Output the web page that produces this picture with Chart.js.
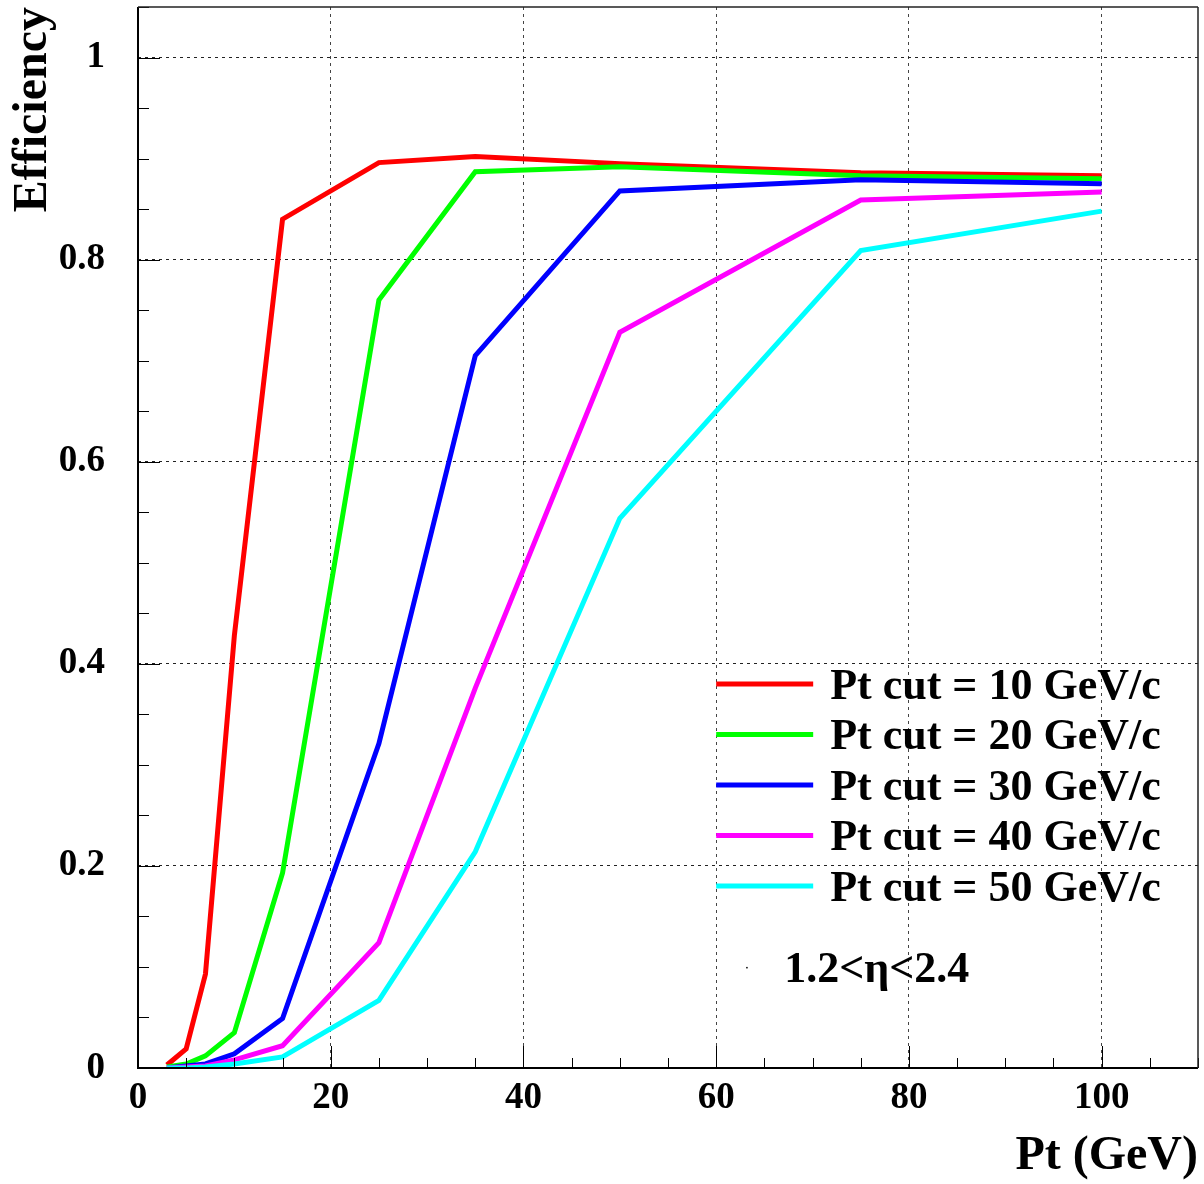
<!DOCTYPE html>
<html>
<head>
<meta charset="utf-8">
<script src="https://cdn.jsdelivr.net/npm/chart.js@4/dist/chart.umd.min.js"></script>
<style>
  html, body { margin: 0; padding: 0; background: #fff; }
  canvas { display: block; }
</style>
</head>
<body>
<canvas id="eff" width="1204" height="1184"></canvas>
<script>
// Pt points (GeV) where the efficiency was measured
const ptValues = [3, 5, 7, 10, 15, 25, 35, 50, 75, 100];

// efficiency per Pt cut
const effCut10 = [0.003, 0.019, 0.093, 0.428, 0.840, 0.896, 0.902, 0.895, 0.886, 0.883];
const effCut20 = [0.001, 0.004, 0.012, 0.035, 0.193, 0.760, 0.887, 0.892, 0.883, 0.880];
const effCut30 = [0.000, 0.002, 0.004, 0.014, 0.049, 0.321, 0.705, 0.868, 0.879, 0.875];
const effCut40 = [0.000, 0.001, 0.002, 0.008, 0.022, 0.124, 0.376, 0.728, 0.859, 0.867];
const effCut50 = [0.000, 0.000, 0.001, 0.004, 0.011, 0.067, 0.214, 0.544, 0.809, 0.848];

const seriesLabels = [
  'Pt cut = 10 GeV/c',
  'Pt cut = 20 GeV/c',
  'Pt cut = 30 GeV/c',
  'Pt cut = 40 GeV/c',
  'Pt cut = 50 GeV/c'
];

const xTicks = [0, 20, 40, 60, 80, 100];
const xTickLabels = ['0', '20', '40', '60', '80', '100'];
const yTicks = [0, 0.2, 0.4, 0.6, 0.8, 1];
const yTickLabels = ['0', '0.2', '0.4', '0.6', '0.8', '1'];

const etaLabel = '1.2<\u03b7<2.4';

const X_MAX = 110;
const Y_MAX = 1.05;
const FONT = '"Liberation Serif", "Times New Roman", serif';
const COLORS = ['#ff0000', '#00ff00', '#0000ff', '#ff00ff', '#00ffff'];

function toPoints(arr) {
  return arr.map((v, i) => ({x: ptValues[i], y: v}));
}

const allSeries = [effCut10, effCut20, effCut30, effCut40, effCut50];

const datasets = allSeries.map((s, i) => ({
  label: seriesLabels[i],
  data: toPoints(s),
  borderColor: COLORS[i],
  backgroundColor: COLORS[i],
  borderWidth: 5,
  pointRadius: 0,
  tension: 0,
  fill: false,
  order: allSeries.length - i
}));

function line(ctx, x1, y1, x2, y2) {
  ctx.beginPath();
  ctx.moveTo(x1, y1);
  ctx.lineTo(x2, y2);
  ctx.stroke();
}

// drop the extra room chart.js keeps for the outer tick labels
function noEdgePadding(scale) {
  scale.paddingTop = 0;
  scale.paddingBottom = 0;
  scale.paddingLeft = 0;
  scale.paddingRight = 0;
}

// frame, inner tick marks, legend and the eta note
const decorPlugin = {
  id: 'decor',
  afterDraw(chart) {
    const {ctx, chartArea: a, scales: {x, y}} = chart;
    ctx.save();

    ctx.strokeStyle = '#000';
    ctx.lineWidth = 1;
    for (let i = 0; i * 5 <= X_MAX; i++) {
      const v = i * 5;
      const px = Math.round(x.getPixelForValue(v)) + 0.5;
      const len = v % 20 === 0 ? 22 : 10;
      line(ctx, px, a.bottom, px, a.bottom - len);
    }
    for (let i = 0; i * 0.05 <= Y_MAX + 1e-9; i++) {
      const py = Math.round(y.getPixelForValue(i * 0.05)) + 0.5;
      const len = i % 4 === 0 ? 22 : 11;
      line(ctx, a.left, py, a.left + len, py);
    }

    // frame
    ctx.strokeStyle = '#000';
    ctx.lineWidth = 2;
    line(ctx, a.left, a.top, a.left, a.bottom + 1);
    line(ctx, a.left - 1, a.bottom, a.right, a.bottom);
    ctx.lineWidth = 1.5;
    ctx.strokeStyle = '#222';
    line(ctx, a.left, a.top, a.right, a.top);
    line(ctx, a.right, a.top, a.right, a.bottom);

    // legend
    const lx1 = x.getPixelForValue(60);
    const lx2 = lx1 + 97;
    const ly0 = a.top + (a.bottom - a.top) * 0.638;
    const step = 50.5;
    ctx.font = 'bold 44px ' + FONT;
    ctx.textAlign = 'left';
    ctx.textBaseline = 'alphabetic';
    chart.data.datasets.forEach((ds, i) => {
      const ly = ly0 + i * step;
      ctx.strokeStyle = ds.borderColor;
      ctx.lineWidth = 5;
      line(ctx, lx1, ly, lx2, ly);
      ctx.fillStyle = '#000';
      ctx.fillText(ds.label, lx2 + 17, ly + 15);
    });

    // eta range note
    const ey = ly0 + 4 * step + 96;
    ctx.fillStyle = '#000';
    ctx.fillRect(lx1 + 30, ey - 15, 1.5, 1.5);
    ctx.fillText(etaLabel, lx1 + 68, ey);

    ctx.restore();
  }
};

const ctx = document.getElementById('eff');

new Chart(ctx, {
  type: 'line',
  data: {datasets},
  options: {
    responsive: false,
    animation: false,
    devicePixelRatio: 1,
    layout: {padding: {top: 7, right: 6, left: 0, bottom: 0}},
    plugins: {
      legend: {display: false},
      tooltip: {enabled: false},
      title: {display: false}
    },
    scales: {
      x: {
        type: 'linear',
        min: 0,
        max: X_MAX,
        afterBuildTicks: (scale) => {
          scale.ticks = xTicks.map(v => ({value: v}));
        },
        afterFit: (scale) => {
          scale.height = 116;
          noEdgePadding(scale);
        },
        ticks: {
          autoSkip: false,
          maxRotation: 0,
          padding: 8,
          color: '#000',
          font: {family: FONT, size: 37, weight: 'bold'},
          callback: (value, index) => xTickLabels[index]
        },
        grid: {
          drawTicks: false,
          color: '#444',
          lineWidth: 1
        },
        border: {display: false, dash: [3, 4]},
        title: {
          display: true,
          text: 'Pt (GeV)',
          align: 'end',
          color: '#000',
          font: {family: FONT, size: 48, weight: 'bold', lineHeight: 1},
          padding: {top: 0, bottom: 3}
        }
      },
      y: {
        type: 'linear',
        min: 0,
        max: Y_MAX,
        afterBuildTicks: (scale) => {
          scale.ticks = yTicks.map(v => ({value: v}));
        },
        afterFit: (scale) => {
          scale.width = 138;
          noEdgePadding(scale);
        },
        ticks: {
          autoSkip: false,
          padding: 33,
          color: '#000',
          font: {family: FONT, size: 37, weight: 'bold'},
          callback: (value, index) => yTickLabels[index]
        },
        grid: {
          drawTicks: false,
          color: '#222',
          lineWidth: 1
        },
        border: {display: false, dash: [3, 4]},
        title: {
          display: true,
          text: 'Efficiency',
          align: 'end',
          color: '#000',
          font: {family: FONT, size: 48, weight: 'bold', lineHeight: 1},
          padding: {top: 10, bottom: 0}
        }
      }
    }
  },
  plugins: [decorPlugin]
});
</script>
</body>
</html>
